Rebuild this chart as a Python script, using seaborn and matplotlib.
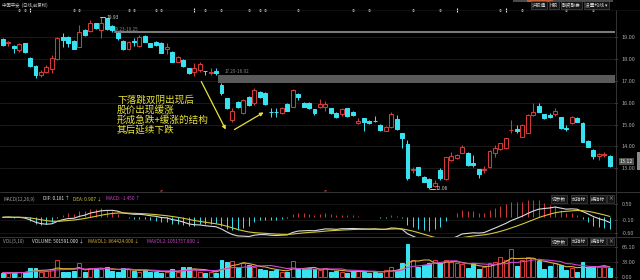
import numpy as np
import pandas as pd
import matplotlib
matplotlib.use("Agg")
import matplotlib.pyplot as plt
from matplotlib.patches import Rectangle, FancyArrowPatch
import seaborn as sns

# ---------------- data ----------------
opens = [18.91, 18.73, 18.62, 18.42, 18.73, 18.04, 17.69, 17.28, 17.43, 17.54,
         17.99, 19.03, 19.03, 18.85, 18.57, 19.34, 19.31, 19.65, 19.34, 19.88,
         19.52, 19.19, 18.85, 18.45, 18.82, 18.61, 19.06, 18.73, 18.80, 18.76,
         18.45, 18.34, 17.89, 17.96, 17.58, 17.43, 17.50, 17.47, 17.36, 17.47,
         16.82, 16.21, 15.21, 16.05, 15.52, 16.28, 15.98, 16.51, 16.46, 15.60,
         15.60, 15.52, 15.95, 15.82, 16.40, 16.01, 16.01, 15.70, 15.79, 15.82,
         15.75, 15.55, 15.49, 15.75, 15.59, 15.06, 15.29, 15.18, 15.18, 14.98,
         14.72, 14.88, 15.24, 14.60, 14.11, 12.93, 13.04, 12.61, 12.50, 12.18,
         12.92, 12.49, 13.38, 13.45, 13.71, 13.71, 13.25, 12.95, 12.93, 13.04,
         13.71, 13.87, 13.91, 14.73, 14.80, 14.45, 14.63, 15.44, 15.85, 15.47,
         15.44, 15.49, 15.33, 14.86, 15.06, 15.31, 15.09, 14.26, 13.84, 13.56,
         13.62, 13.56]
highs = [18.96, 18.83, 18.65, 18.76, 18.76, 18.08, 17.72, 17.50, 17.72, 18.19,
         19.03, 19.19, 19.06, 18.88, 19.57, 19.37, 19.80, 19.68, 19.93, 19.90,
         19.55, 19.23, 18.88, 18.83, 18.98, 19.11, 19.09, 18.76, 18.83, 18.80,
         18.73, 18.37, 18.15, 17.99, 17.61, 17.84, 17.89, 17.48, 17.58, 17.58,
         16.92, 16.24, 15.75, 16.08, 16.16, 16.31, 16.68, 16.55, 16.49, 15.75,
         15.75, 15.83, 15.98, 16.62, 16.46, 16.04, 16.04, 15.73, 16.16, 16.09,
         15.78, 15.58, 15.75, 15.78, 15.62, 15.29, 15.32, 15.21, 15.39, 15.01,
         14.93, 15.59, 15.44, 14.63, 14.29, 13.06, 13.07, 12.64, 12.53, 12.46,
         13.00, 13.52, 13.76, 13.63, 14.06, 13.74, 13.61, 12.98, 13.10, 13.83,
         14.06, 14.17, 14.40, 15.21, 14.98, 15.01, 15.47, 16.01, 15.98, 15.50,
         15.55, 15.75, 15.36, 14.98, 15.39, 15.34, 15.12, 14.29, 13.87, 13.71,
         13.74, 13.61]
lows = [18.60, 18.62, 18.28, 18.34, 18.30, 17.66, 17.12, 17.20, 17.35, 17.35,
        17.96, 18.57, 18.57, 18.45, 18.55, 19.08, 19.26, 19.40, 18.96, 19.36,
        19.25, 18.88, 18.42, 18.42, 18.61, 18.55, 18.77, 18.55, 18.62, 18.27,
        18.26, 17.85, 17.86, 17.66, 17.32, 17.23, 17.43, 17.28, 17.28, 17.29,
        16.36, 15.70, 15.13, 15.76, 15.49, 15.87, 15.90, 16.24, 15.92, 15.36,
        15.36, 15.49, 15.61, 15.79, 16.13, 15.79, 15.72, 15.44, 15.75, 15.64,
        15.49, 15.29, 15.39, 15.36, 15.41, 15.03, 14.72, 15.03, 15.13, 14.72,
        14.69, 14.83, 14.77, 13.91, 12.46, 12.78, 12.66, 12.35, 12.06, 12.15,
        12.46, 12.46, 13.35, 13.42, 13.68, 13.12, 13.04, 12.54, 12.76, 13.01,
        13.53, 13.84, 13.88, 14.60, 14.60, 14.42, 14.60, 15.39, 15.56, 15.26,
        15.29, 15.39, 14.80, 14.69, 15.03, 15.10, 14.19, 13.95, 13.42, 13.38,
        13.51, 13.06]
closes = [18.65, 18.80, 18.50, 18.68, 18.32, 17.69, 17.28, 17.43, 17.66, 18.04,
          18.96, 18.88, 18.73, 18.47, 19.26, 19.11, 19.67, 19.42, 19.65, 19.39,
          19.34, 18.96, 18.45, 18.80, 18.78, 19.03, 18.80, 18.57, 18.65, 18.30,
          18.57, 17.89, 18.11, 17.69, 17.35, 17.61, 17.78, 17.45, 17.42, 17.35,
          16.44, 15.77, 15.64, 15.79, 16.13, 15.90, 16.59, 16.27, 15.95, 15.57,
          15.58, 15.75, 15.64, 16.59, 16.28, 15.82, 15.75, 15.52, 15.95, 15.95,
          15.52, 15.33, 15.70, 15.39, 15.44, 15.18, 15.13, 15.06, 15.15, 14.75,
          14.90, 15.47, 14.80, 14.37, 12.54, 12.97, 12.69, 12.38, 12.15, 12.33,
          12.54, 13.50, 13.56, 13.61, 13.99, 13.15, 13.15, 12.72, 12.96, 13.80,
          13.91, 14.14, 14.37, 14.77, 14.71, 14.98, 15.44, 15.59, 15.59, 15.29,
          15.33, 15.64, 14.83, 14.78, 15.36, 15.13, 14.22, 13.99, 13.56, 13.65,
          13.64, 13.12]
volumes = [9.5, 9.5, 8.1, 11.7, 10.3, 20.5, 19.1, 11.7, 13.9, 16.9,
           37.4, 11.7, 11.7, 13.2, 30.1, 11.7, 19.1, 19.1, 16.9, 21.3,
           13.9, 11.7, 19.1, 16.9, 13.9, 11.7, 15.4, 11.7, 11.7, 9.5,
           11.7, 16.9, 11.7, 22.7, 21.3, 16.9, 11.7, 8.1, 11.7, 8.1,
           37.4, 33.7, 35.9, 21.3, 30.1, 26.4, 21.3, 17.6, 15.4, 13.9,
           15.4, 11.7, 11.7, 35.9, 16.9, 16.9, 19.1, 16.9, 15.4, 19.1,
           11.7, 13.9, 11.7, 9.5, 13.9, 13.9, 11.7, 9.5, 11.7, 9.5,
           15.4, 21.3, 15.4, 30.1, 71.9, 37.4, 21.3, 26.4, 30.1, 37.4,
           30.1, 37.4, 33.7, 30.1, 28.6, 19.1, 30.1, 16.9, 21.3, 30.1,
           33.7, 44.7, 37.4, 61.6, 24.2, 37.4, 43.3, 41.1, 35.9, 16.9,
           24.2, 30.1, 26.4, 15.4, 19.1, 11.7, 33.7, 22.7, 24.2, 22.7,
           21.3, 19.1]

price_ticks = [13, 14, 15, 16, 17, 18, 19]
macd_ticks = [0.50, -0.10, -0.60]
macd_tick_labels = ["0.50", "-0.10", "-0.60"]
vol_ticks = [66.10, 33.00, 0.00]
vol_tick_labels = ["66.10", "33.00", "0.00"]

info_dots = [3, 4, 13, 14, 23, 24, 28, 29, 37, 40, 45, 47, 48, 54, 64, 67, 75, 80, 91, 95, 103, 108]
info_bars = [5, 35, 83, 92]
signal_marks = [29, 59]

gap1_range = (19.23, 19.25)
gap2_range = (16.92, 17.29)
high_value = 19.93
low_value = 12.06
last_price = 13.12

note_lines = ["下落跳双阴出现后", "股价出现缓涨", "形成急跌+缓涨的结构", "其后延续下跌"]

# ---------------- style ----------------
sns.set_theme(style="dark", rc={"axes.facecolor": "#000000", "figure.facecolor": "#000000",
                                "axes.edgecolor": "#000000", "text.color": "#c8c8c8",
                                "xtick.color": "#a8a8a8", "ytick.color": "#a8a8a8"})
plt.rcParams['font.family'] = ['Noto Sans CJK SC', 'DejaVu Sans']
plt.rcParams['axes.unicode_minus'] = False

RED = '#d23a3a'
CYAN = '#38e2f0'
BG = '#000000'
YEL = '#e8e23c'
DEA_C = '#d6c83a'
MAG = '#d044d0'
GRID = '#1e1e1e'
SEP = '#343434'

W, H = 640, 280
fig = plt.figure(figsize=(6.4, 2.8), dpi=100)
fig.patch.set_facecolor(BG)


def fx(x):
    return x / W


def fy(y):
    return 1 - y / H


df = pd.DataFrame({"i": np.arange(len(closes)), "open": opens, "high": highs,
                   "low": lows, "close": closes, "volume": volumes})
df["up"] = df["close"] >= df["open"]
X0, X1 = -0.494, 111.94

ax_p = fig.add_axes([0, fy(192), fx(615), (192 - 10) / H])
ax_m = fig.add_axes([0, fy(237), fx(615), (237 - 192) / H])
ax_v = fig.add_axes([0, fy(280), fx(615), (280 - 237) / H])

for ax in (ax_p, ax_m, ax_v):
    ax.set_facecolor(BG)
    for s in ax.spines.values():
        s.set_visible(False)
    ax.set_xlim(X0, X1)
    ax.set_xticks([])
    ax.yaxis.tick_right()
    ax.tick_params(axis='y', which='both', left=False, labelleft=False, right=True,
                   labelright=True, length=1.5, width=0.5, pad=3.2, labelsize=4,
                   colors='#a8a8a8')
    ax.grid(False)

# ---------------- price panel ----------------
ax_p.set_ylim(11.908, 20.257)
ax_p.set_yticks(price_ticks)
ax_p.set_yticklabels([f"{v:.2f}" for v in price_ticks])
for v in price_ticks:
    ax_p.axhline(v, color=GRID, lw=0.6, zorder=0)

ax_p.fill_between([39.45, X1], gap2_range[0], gap2_range[1], color='#5a5a5a', lw=0, zorder=1)
ax_p.plot([20.45, X1], [sum(gap1_range) / 2] * 2, color='#7a7a7a', lw=1.5, zorder=1)

bw = 0.72
for r in df.itertuples():
    col = RED if r.up else CYAN
    top = max(r.open, r.close)
    bot = min(r.open, r.close)
    ax_p.vlines(r.i, top, r.high, color=col, lw=0.75, zorder=3)
    ax_p.vlines(r.i, r.low, bot, color=col, lw=0.75, zorder=3)
    h = max(top - bot, 0.012)
    ax_p.add_patch(Rectangle((r.i - bw / 2, bot), bw, h,
                             facecolor=BG if r.up else col, edgecolor=col, lw=0.75, zorder=4))

ihi = int(df["high"].idxmax())
ax_p.plot([ihi - 0.3, ihi + 0.7], [high_value, high_value], color='#e0e0e0', lw=0.6, zorder=5)
ax_p.text(ihi + 1.0, high_value - 0.03, f"{high_value:.2f}", color='#d0d0d0', fontsize=3.6,
          va='center', ha='left', zorder=6)
ilo = int(df["low"].idxmin())
ax_p.plot([ilo + 0.2, ilo + 1.0], [low_value, low_value], color='#e0e0e0', lw=0.6, zorder=5)
ax_p.text(ilo + 1.2, low_value + 0.03, f"{low_value:.2f}", color='#d0d0d0', fontsize=3.6,
          va='center', ha='left', zorder=6)
ax_p.text(20.3, 19.38, f"{gap1_range[0]:.2f}-{gap1_range[1]:.2f}", color='#8c8c8c',
          fontsize=3.3, va='center', ha='left')
ax_p.text(40.6, 17.45, f"{gap2_range[1]:.2f}-{gap2_range[0]:.2f}", color='#8c8c8c',
          fontsize=3.3, va='center', ha='left')

top_y = 20.257
sns.scatterplot(x=info_dots, y=[top_y] * len(info_dots), ax=ax_p, color='#e8e8e8', s=3,
                linewidth=0, clip_on=False, zorder=7, legend=False)
ax_p.vlines(info_bars, top_y - 0.1, top_y + 0.1, color='#e8e8e8', lw=0.8, clip_on=False)
for m in signal_marks:
    ax_p.text(m, 11.93, "s", color=RED, fontsize=4.5, ha='center', va='center',
              clip_on=False, fontweight='bold')

# current price box (sits just above the 13.00 label, as in the reference)
fig.text(fx(626.5), fy(161.5), f"{last_price:.2f}", fontsize=3.8,
         color='#f0f0f0', ha='center', va='center',
         bbox=dict(boxstyle='square,pad=0.12', fc='#505050', ec='none'))

ax_p.set_xlabel("")
ax_p.set_ylabel("")

# ---------------- MACD panel ----------------
ema12 = df["close"].ewm(span=12, adjust=False).mean()
ema26 = df["close"].ewm(span=26, adjust=False).mean()
dif = ema12 - ema26
dea = dif.ewm(span=9, adjust=False).mean()
hist = 2 * (dif - dea)
ax_m.set_ylim(-0.739, 0.949)
ax_m.set_yticks(macd_ticks)
ax_m.set_yticklabels(macd_tick_labels)
for v in macd_ticks:
    ax_m.axhline(v, color=GRID, lw=0.5, zorder=0)
hcol = np.where(hist >= 0, RED, CYAN)
ax_m.vlines(df["i"], 0, hist, colors=hcol, lw=0.7, zorder=2)
sns.lineplot(x=df["i"], y=dif, ax=ax_m, color='#dcdcdc', lw=0.8, zorder=3)
sns.lineplot(x=df["i"], y=dea, ax=ax_m, color=DEA_C, lw=0.8, zorder=3)
ax_m.set_xlabel("")
ax_m.set_ylabel("")
ax_m.set_xlim(X0, X1)
ax_m.set_xticks([])

# ---------------- VOL panel ----------------
ax_v.set_ylim(-6.6, 88.0)
ax_v.set_yticks(vol_ticks)
ax_v.set_yticklabels(vol_tick_labels)
for v in vol_ticks[:2]:
    ax_v.axhline(v, color=GRID, lw=0.5, zorder=0)
for r in df.itertuples():
    col = RED if r.up else CYAN
    ax_v.add_patch(Rectangle((r.i - bw / 2, 0), bw, r.volume,
                             facecolor=BG if r.up else col, edgecolor=col, lw=0.75, zorder=2))
mav1 = df["volume"].rolling(5, min_periods=1).mean()
mav2 = df["volume"].rolling(10, min_periods=1).mean()
sns.lineplot(x=df["i"], y=mav1, ax=ax_v, color='#d8b03a', lw=0.8, zorder=3)
sns.lineplot(x=df["i"], y=mav2, ax=ax_v, color=MAG, lw=0.8, zorder=3)
ax_v.set_xlabel("")
ax_v.set_ylabel("")
ax_v.set_xlim(X0, X1)
ax_v.set_xticks([])

# ---------------- separators ----------------
for yy in (192, 237):
    fig.add_artist(plt.Line2D([0, 1], [fy(yy), fy(yy)], color=SEP, lw=0.7))
fig.add_artist(plt.Line2D([fx(615.5), fx(615.5)], [0, fy(10)], color=SEP, lw=0.7))
fig.add_artist(plt.Line2D([0, 1], [fy(10), fy(10)], color='#161616', lw=0.5))

# ---------------- texts ----------------
fs = 3.4
fig.text(fx(2), fy(5), "中国平安  (日线,前复权)", fontsize=3.2, color='#c8c8c8', va='center')
for x, t in [(532, "沪股通"), (550, "H股"), (562, "融资融券"), (585, "设置均线 ▾")]:
    fig.text(fx(x), fy(5), t, fontsize=3.4, color='#d8d8d8', va='center',
             bbox=dict(boxstyle='square,pad=0.25', fc='#151515', ec='#585858', lw=0.4))
fig.add_artist(Rectangle((fx(513), fy(1.5)), fx(100), 1.5 / H, transform=fig.transFigure,
                         fc='#4a4a4a', ec='none'))
fig.add_artist(Rectangle((fx(527), fy(2)), fx(26), 2 / H, transform=fig.transFigure,
                         fc='#c0603a', ec='none'))

for yy in (199, 241.5):
    for x, t in [(552, "调参数"), (572, "加指标"), (591, "换指标"), (608, "×")]:
        fig.text(fx(x), fy(yy), t, fontsize=3.4, color='#d0d0d0', va='center',
                 bbox=dict(boxstyle='square,pad=0.25', fc='#151515', ec='#505050', lw=0.4))

fig.text(fx(3), fy(199), "MACD(12,26,9)", fontsize=fs, color='#a0a0a0', va='center')
fig.text(fx(43), fy(199), "DIF: 0.181 ↑", fontsize=fs, color='#e8e8e8', va='center')
fig.text(fx(73), fy(199), "DEA: 0.907 ↓", fontsize=fs, color=DEA_C, va='center')
fig.text(fx(106), fy(199), "MACD: -1.450 ↑", fontsize=fs, color=MAG, va='center')
fig.text(fx(3), fy(241.5), "VOL(5,10)", fontsize=fs, color='#a0a0a0', va='center')
fig.text(fx(32), fy(241.5), "VOLUME: 501591.000 ↓", fontsize=fs, color='#e8e8e8', va='center')
fig.text(fx(88), fy(241.5), "MAVOL1: 864424.000 ↓", fontsize=fs, color='#d8b03a', va='center')
fig.text(fx(147), fy(241.5), "MAVOL2: 1051757.800 ↓", fontsize=fs, color=MAG, va='center')

for k, line in enumerate(note_lines):
    fig.text(fx(117), fy(100 + k * 10), line, fontsize=6.9, color=YEL, va='center', ha='left')
fig.add_artist(FancyArrowPatch((fx(200), fy(79)), (fx(227), fy(132)), transform=fig.transFigure,
                               arrowstyle='-|>', mutation_scale=5, color=YEL, lw=0.9))
fig.add_artist(FancyArrowPatch((fx(232), fy(131)), (fx(266), fy(111)), transform=fig.transFigure,
                               arrowstyle='-|>', mutation_scale=5, color=YEL, lw=0.9))

fig.add_artist(Rectangle((fx(636.5), fy(170)), fx(3.5), 18 / H, transform=fig.transFigure,
                         fc='#8a8a8a', ec='none'))

fig.savefig("out.png", dpi=100, facecolor=BG)
